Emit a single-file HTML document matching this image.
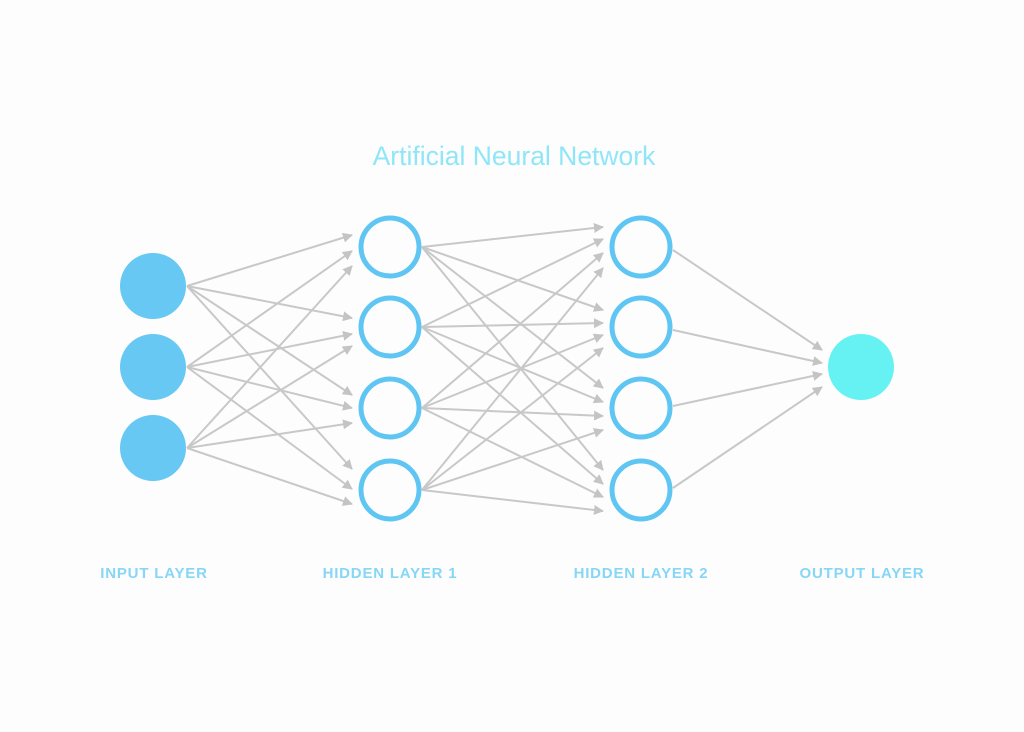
<!DOCTYPE html>
<html><head><meta charset="utf-8"><style>
html,body{margin:0;padding:0;background:#fdfdfd;}
svg{display:block}
</style></head><body>
<svg width="1024" height="732" viewBox="0 0 1024 732" xmlns="http://www.w3.org/2000/svg">
<defs>
<marker id="a" markerWidth="10" markerHeight="10" refX="9" refY="5" orient="auto" markerUnits="userSpaceOnUse">
<path d="M0,0 L10,5 L0,10 z" fill="#c4c4c4"/>
</marker>
</defs>
<rect width="1024" height="732" fill="#fdfdfd"/>
<text x="514" y="165" text-anchor="middle" font-family="Liberation Sans, sans-serif" font-size="26.5" fill="#8fe6f8">Artificial Neural Network</text>
<g stroke="#c8c8c8" stroke-width="2" fill="none" marker-end="url(#a)">
<line x1="187" y1="286" x2="352" y2="235"/>
<line x1="187" y1="367" x2="352" y2="251"/>
<line x1="187" y1="448" x2="352" y2="266"/>
<line x1="187" y1="286" x2="352" y2="318"/>
<line x1="187" y1="367" x2="352" y2="334"/>
<line x1="187" y1="448" x2="352" y2="346"/>
<line x1="187" y1="286" x2="352" y2="395"/>
<line x1="187" y1="367" x2="352" y2="408"/>
<line x1="187" y1="448" x2="352" y2="423"/>
<line x1="187" y1="286" x2="352" y2="469"/>
<line x1="187" y1="367" x2="352" y2="489"/>
<line x1="187" y1="448" x2="352" y2="504"/>
<line x1="422" y1="247" x2="603" y2="227"/>
<line x1="422" y1="327" x2="603" y2="239"/>
<line x1="422" y1="408" x2="603" y2="253"/>
<line x1="422" y1="490" x2="603" y2="268"/>
<line x1="422" y1="247" x2="603" y2="310"/>
<line x1="422" y1="327" x2="603" y2="323"/>
<line x1="422" y1="408" x2="603" y2="335"/>
<line x1="422" y1="490" x2="603" y2="348"/>
<line x1="422" y1="247" x2="603" y2="388"/>
<line x1="422" y1="327" x2="603" y2="402"/>
<line x1="422" y1="408" x2="603" y2="416"/>
<line x1="422" y1="490" x2="603" y2="430"/>
<line x1="422" y1="247" x2="603" y2="470"/>
<line x1="422" y1="327" x2="603" y2="484"/>
<line x1="422" y1="408" x2="603" y2="497"/>
<line x1="422" y1="490" x2="603" y2="511"/>
<line x1="673" y1="250" x2="822" y2="350"/>
<line x1="673" y1="330" x2="822" y2="363"/>
<line x1="673" y1="406" x2="822" y2="374"/>
<line x1="673" y1="488" x2="822" y2="387"/>
</g>
<g fill="#67c8f3">
<circle cx="153" cy="286" r="33"/>
<circle cx="153" cy="367" r="33"/>
<circle cx="153" cy="448" r="33"/>
</g>
<g fill="#fdfdfd" stroke="#5fc6f3" stroke-width="5">
<circle cx="390" cy="247" r="29"/>
<circle cx="390" cy="327" r="29"/>
<circle cx="390" cy="408" r="29"/>
<circle cx="390" cy="490" r="29"/>
<circle cx="641" cy="247" r="29"/>
<circle cx="641" cy="327" r="29"/>
<circle cx="641" cy="408" r="29"/>
<circle cx="641" cy="490" r="29"/>
</g>
<circle cx="861" cy="367" r="33" fill="#66f2f2"/>
<g font-family="Liberation Sans, sans-serif" font-size="15" font-weight="bold" fill="#86d6f6" text-anchor="middle" letter-spacing="0.8">
<text x="154" y="578">INPUT LAYER</text>
<text x="390" y="578">HIDDEN LAYER 1</text>
<text x="641" y="578">HIDDEN LAYER 2</text>
<text x="862" y="578">OUTPUT LAYER</text>
</g>
</svg>
</body></html>
